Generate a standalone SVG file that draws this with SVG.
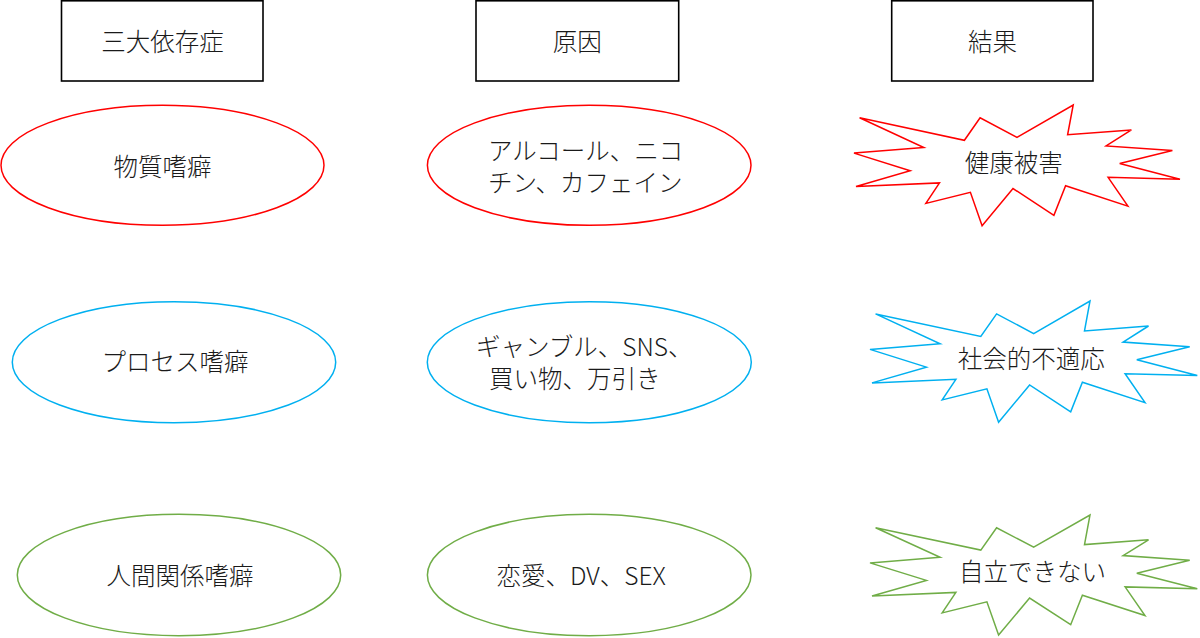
<svg xmlns="http://www.w3.org/2000/svg" width="1200" height="638" viewBox="0 0 1200 638">
<style>
  text { font-family: "Noto Sans CJK JP", "Noto Sans", sans-serif; font-size: 24.5px; font-weight: 300; fill: #1a1a1a; dominant-baseline: central; }
  .c { text-anchor: middle; }
  .box { fill: #ffffff; stroke: #000000; stroke-width: 1.6; }
  .red { fill: #ffffff; stroke: #ff0000; stroke-width: 1.5; }
  .blue { fill: #ffffff; stroke: #00b0f0; stroke-width: 1.5; }
  .green { fill: #ffffff; stroke: #70ad47; stroke-width: 1.5; }
</style>
<rect width="1200" height="638" fill="#ffffff"/>
<g id="connectors"></g>

<g id="header-1">
  <rect class="box" x="61.5" y="0.8" width="201.5" height="80.2"/>
  <text class="c" x="162.5" y="40">三大依存症</text>
</g>
<g id="header-2">
  <rect class="box" x="476" y="0.8" width="202.7" height="80.2"/>
  <text class="c" x="577.3" y="40">原因</text>
</g>
<g id="header-3">
  <rect class="box" x="891.7" y="0.8" width="201.3" height="80.2"/>
  <text class="c" x="992.5" y="40">結果</text>
</g>

<g id="substance">
  <ellipse class="red" cx="162.5" cy="165.3" rx="161.5" ry="60"/>
  <text class="c" x="162.5" y="165">物質嗜癖</text>
</g>
<g id="substance-cause">
  <ellipse class="red" cx="589.2" cy="165.3" rx="161.8" ry="60"/>
  <text x="488" y="149.5">アルコール、ニコ</text>
  <text x="488" y="181.5">チン、カフェイン</text>
</g>
<g id="substance-result">
  <polygon class="red" points="1017.0,137.4 1073.2,105 1067.6,134.8 1131.4,129.9 1106.1,145.9 1172.4,150.5 1119.7,163.5 1180,179.3 1108.1,177.3 1127.9,206.1 1065.6,185.8 1053.9,215.3 1013.0,188.5 982.1,225.7 970.4,192.3 925.9,203.4 939.5,182.9 856.0,186.5 910.2,170.8 854,153.1 923.8,147.6 859.6,117.8 964.4,140.3 980.1,117.8"/>
  <text class="c" x="1013.7" y="161.5">健康被害</text>
</g>

<g id="process">
  <ellipse class="blue" cx="174" cy="362.2" rx="161.7" ry="60.5"/>
  <text class="c" x="175" y="360">プロセス嗜癖</text>
</g>
<g id="process-cause">
  <ellipse class="blue" cx="589.3" cy="362.2" rx="162" ry="60.5"/>
  <text x="476" y="345">ギャンブル、SNS、</text>
  <text x="489" y="377">買い物、万引き</text>
</g>
<g id="process-result">
  <polygon class="blue" points="1033.7,333.6 1090.0,301 1084.5,330.9 1148.5,326.0 1123.1,342.1 1189.7,346.7 1136.8,359.8 1197.3,375.6 1125.1,373.7 1145.0,402.6 1082.4,382.2 1070.7,411.8 1029.6,384.9 998.6,422.3 986.9,388.8 942.2,399.9 955.9,379.3 872.0,382.9 926.4,367.1 870,349.4 940.1,343.8 875.6,313.9 980.8,336.5 996.6,313.9"/>
  <text class="c" x="1031.3" y="357.5">社会的不適応</text>
</g>

<g id="relationship">
  <ellipse class="green" cx="179" cy="575" rx="161.7" ry="60.7"/>
  <text class="c" x="180" y="574">人間関係嗜癖</text>
</g>
<g id="relationship-cause">
  <ellipse class="green" cx="589.2" cy="575" rx="161.8" ry="60.7"/>
  <text x="496.5" y="574">恋愛、DV、SEX</text>
</g>
<g id="relationship-result">
  <polygon class="green" points="1033.7,547.2 1090.0,515 1084.5,544.6 1148.5,539.8 1123.1,555.6 1189.7,560.2 1136.8,573.2 1197.3,588.8 1125.1,586.9 1145.0,615.5 1082.4,595.3 1070.7,624.7 1029.6,598.0 998.6,635 986.9,601.8 942.2,612.9 955.9,592.4 872.0,596.0 926.4,580.4 870,562.9 940.1,557.3 875.6,527.8 980.8,550.1 996.6,527.8"/>
  <text class="c" x="1032.5" y="570">自立できない</text>
</g>
</svg>
